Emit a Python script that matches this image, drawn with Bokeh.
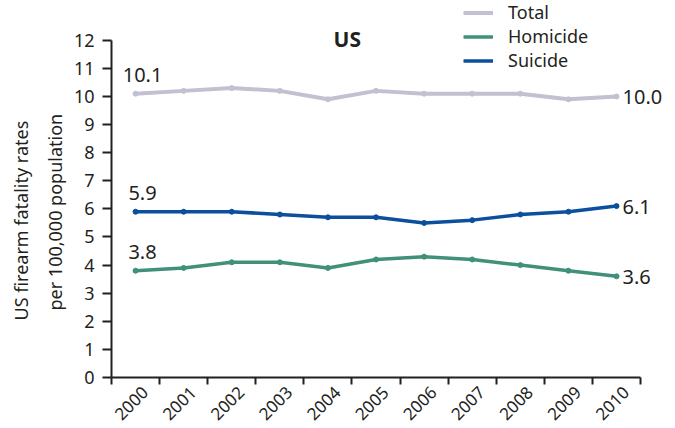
import math
from bokeh.plotting import figure
from bokeh.models import (ColumnDataSource, FixedTicker, Legend, LegendItem, Range1d,
                          LabelSet, Label, Title)
from bokeh.embed import file_html
from bokeh.resources import INLINE
from bokeh.core.properties import value

# ---- data ----
years = ["2000", "2001", "2002", "2003", "2004", "2005", "2006", "2007", "2008", "2009", "2010"]
total = [10.1, 10.2, 10.3, 10.2, 9.9, 10.2, 10.1, 10.1, 10.1, 9.9, 10.0]
homicide = [3.8, 3.9, 4.1, 4.1, 3.9, 4.2, 4.3, 4.2, 4.0, 3.8, 3.6]
suicide = [5.9, 5.9, 5.9, 5.8, 5.7, 5.7, 5.5, 5.6, 5.8, 5.9, 6.1]
y_ticks = [0, 1, 2, 3, 4, 5, 6, 7, 8, 9, 10, 11, 12]
series_names = ["Total", "Homicide", "Suicide"]
series_colors = ["#c1c1d1", "#40907a", "#0b4f9d"]
series_widths = [4, 3.5, 3.5]
title_text = "US"
y_label_lines = ["US firearm fatality rates", "per 100,000 population"]

FONT = "Noto Sans"
INK = "#231f20"

n = len(years)
x = [i + 0.5 for i in range(n)]
boundaries = list(range(n + 1))
label_pos = [xi + 0.2 for xi in x]   # rotated year labels sit slightly right of centre

# frame spans to the top/right edges so legend/labels are not clipped; axes are bounded
p = figure(width=675, height=428, output_backend="svg", toolbar_location=None,
           x_range=Range1d(0, n * 1.066), y_range=Range1d(0, max(y_ticks) * 1.118),
           min_border_left=111, min_border_right=0, min_border_top=0, min_border_bottom=50)
p.title = None
p.outline_line_color = None
p.xgrid.grid_line_color = None
p.ygrid.grid_line_color = None

# lines
renderers = []
for name, vals, col, w in zip(series_names, [total, homicide, suicide], series_colors, series_widths):
    src = ColumnDataSource(dict(x=x, y=vals))
    r = p.line("x", "y", source=src, line_color=col, line_width=w)
    p.scatter("x", "y", source=src, size=5, fill_color=col, line_color=col)
    renderers.append(r)

# value labels (first and last year)
first_vals = [total[0], suicide[0], homicide[0]]
last_vals = [total[-1], suicide[-1], homicide[-1]]
first_src = ColumnDataSource(dict(x=[x[0]] * 3, y=first_vals, t=[f"{v:.1f}" for v in first_vals]))
last_src = ColumnDataSource(dict(x=[x[-1]] * 3, y=last_vals, t=[f"{v:.1f}" for v in last_vals]))
p.add_layout(LabelSet(x="x", y="y", text="t", source=first_src, text_font=value(FONT),
                      text_font_size="20px", text_color=INK, text_align="center",
                      text_baseline="alphabetic", x_offset=7, y_offset=12))
p.add_layout(LabelSet(x="x", y="y", text="t", source=last_src, text_font=value(FONT),
                      text_font_size="20px", text_color=INK, text_align="left",
                      text_baseline="middle", x_offset=6, y_offset=-1))

# chart title
p.add_layout(Label(x=222, y=339, x_units="screen", y_units="screen", text=title_text,
                   text_font=FONT, text_font_style="bold", text_font_size="21px",
                   text_color=INK, text_align="left", text_baseline="alphabetic"))

# legend
legend = Legend(items=[LegendItem(label=nm, renderers=[r]) for nm, r in zip(series_names, renderers)],
                location=(352, 305), background_fill_alpha=0, border_line_color=None,
                padding=0, margin=0, spacing=-2, label_height=19, glyph_height=19, glyph_width=30,
                label_standoff=15, label_text_font=FONT, label_text_font_size="18px",
                label_text_color=INK)
p.add_layout(legend)

# x axis
xa = p.xaxis[0]
xa.bounds = (0, n)
xa.ticker = FixedTicker(ticks=label_pos, minor_ticks=boundaries)
xa.major_label_overrides = {lp: yr for lp, yr in zip(label_pos, years)}
xa.major_label_orientation = math.pi / 4
xa.major_tick_line_color = None
xa.major_tick_out = 7
xa.major_tick_in = 0
xa.minor_tick_out = 7
xa.minor_tick_in = 0
xa.minor_tick_line_color = INK
xa.minor_tick_line_width = 2
xa.axis_line_color = INK
xa.axis_line_width = 2
xa.major_label_standoff = 5
xa.major_label_text_font = FONT
xa.major_label_text_font_size = "17px"
xa.major_label_text_color = INK

# y axis
ya = p.yaxis[0]
ya.bounds = (0, max(y_ticks))
ya.ticker = FixedTicker(ticks=y_ticks)
ya.minor_tick_line_color = None
ya.major_tick_out = 9
ya.major_tick_in = 0
ya.major_tick_line_color = INK
ya.major_tick_line_width = 2
ya.axis_line_color = INK
ya.axis_line_width = 2
ya.major_label_standoff = 8
ya.major_label_text_font = FONT
ya.major_label_text_font_size = "18px"
ya.major_label_text_color = INK

# y axis title: two lines, nearest line first
for line, off in zip(reversed(y_label_lines), [67, 57]):
    p.add_layout(Title(text=line, align="left", offset=off, text_font=FONT,
                       text_font_style="normal", text_font_size="18px", text_color=INK,
                       standoff=8), "left")

open("out.html", "w").write(file_html(p, INLINE))
